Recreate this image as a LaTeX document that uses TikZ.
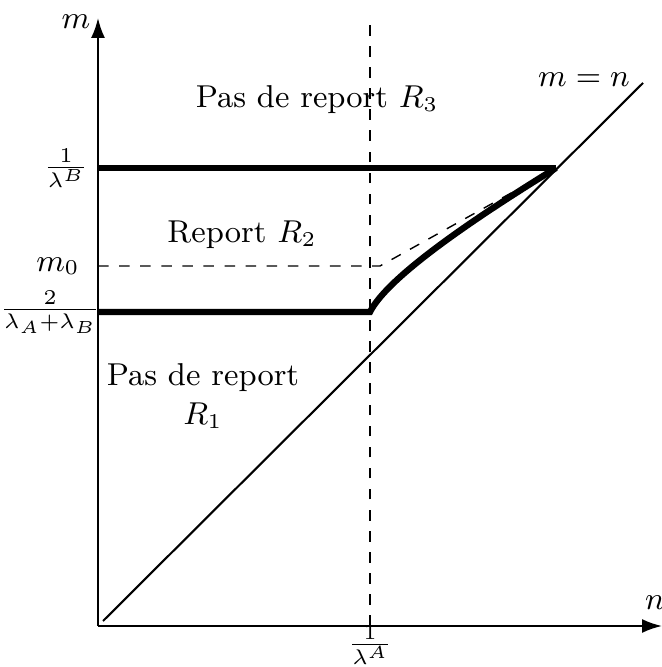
\documentclass[tikz,border=0pt]{standalone}
\usepackage{amsmath,amssymb}
\usepackage{tikz}
\usetikzlibrary{arrows.meta}
\tikzset{
  axis/.style={-{Latex[length=2mm,width=1.4mm]},semithick},
  bound/.style={line width=1.8pt},
  guide/.style={dashed,thin},
  diag/.style={semithick},
  ticklab/.style={inner sep=0pt},
}

\begin{document}
\begin{tikzpicture}[font=\fontsize{9}{11}\selectfont]
\useasboundingbox (-0.98,-0.41) rectangle (5.63,6.26);
% axes
\coordinate (O) at (0,0);
\coordinate (xend) at (5.64,0);
\coordinate (yend) at (0,6.08);
\draw[axis] (O) -- (xend);
\draw[axis] (O) -- (yend);
\node (ylab) at (-0.22,6.04) {$m$};
\node (xlab) at (5.57,0.23) {$n$};

% key points
\coordinate (a0) at (2.72,0);
\coordinate (atop) at (2.72,6.05);
\coordinate (b1) at (0,4.58);
\coordinate (meet) at (4.58,4.58);
\coordinate (m0) at (0,3.60);
\coordinate (bend) at (2.82,3.60);
\coordinate (c0) at (0,3.14);
\coordinate (c1) at (2.72,3.14);
\coordinate (d0) at (0.05,0.05);
\coordinate (d1) at (5.45,5.43);

% guide lines
\draw[guide] (a0) -- (atop);
\draw[guide] (m0) -- (bend) -- (meet);

% diagonal
\draw[diag] (d0) -- (d1);
\node (diaglab) at (4.86,5.46) {$m=n$};

% region borders
\draw[bound] (b1) -- (meet);
\draw[bound] (c0) -- (c1) .. controls (2.9,3.5) and (3.8,4.1) .. (meet);

% tick labels
\node[ticklab] (lb) at (-0.32,4.58) {$\frac{1}{\lambda^B}$};
\node[ticklab] (lm0) at (-0.40,3.60) {$m_0$};
\node[ticklab] (lab) at (-0.48,3.14) {$\frac{2}{\lambda_A+\lambda_B}$};
\node[ticklab] (la) at (2.72,-0.19) {$\frac{1}{\lambda^A}$};

% regions
\node (r3) at (2.19,5.26) {Pas de report $R_3$};
\node (r2) at (1.44,3.91) {Report $R_2$};
\node[align=center] (r1) at (1.05,2.30) {Pas de report\\$R_1$};
\end{tikzpicture}
\end{document}
